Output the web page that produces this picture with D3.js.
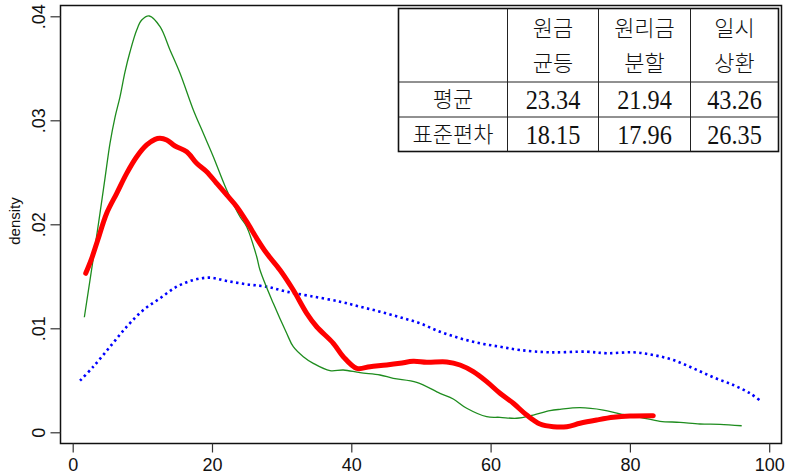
<!DOCTYPE html>
<html>
<head>
<meta charset="utf-8">
<script src="https://cdn.jsdelivr.net/npm/d3@7"></script>
<style>
  html, body { margin: 0; padding: 0; background: #fff; }
  svg { display: block; }
</style>
</head>
<body>
<svg id="chart" width="788" height="476"></svg>
<script>
// Kernel density estimates of the three repayment groups (x, density)
const equalPrincipalX = [1.67, 3.2, 3.92, 4.64, 5.36, 6.08, 6.79, 7.51, 8.23, 9.19, 9.91, 11.0, 12.54, 13.97, 15.41, 17.32, 18.75, 20.19, 22.11, 24.02, 24.98, 26.42, 26.89, 28.8, 30.72, 31.67, 33.11, 34.54, 36.94, 38.85, 41.25, 44.12, 46.03, 49.39, 52.73, 54.64, 56.57, 59.44, 61.35, 63.75, 66.13, 68.53, 69.96, 72.83, 76.18, 78.58, 81.45, 84.32, 87.19, 90.06, 92.93, 96.05];
const equalPrincipalY = [.01106, .01781, .02108, .02444, .02781, .03031, .03226, .03466, .03659, .03868, .03964, .04003, .0390, .03676, .03452, .03099, .02875, .0265, .0233, .02073, .01977, .01688, .01561, .0124, .00952, .00823, .00727, .00663, .00592, .00599, .00573, .00551, .00519, .00481, .00375, .0032, .00231, .0015, .00144, .00135, .00166, .00208, .00221, .00237, .00214, .00176, .00144, .00106, .00096, .0008, .00077, .00063];

const equalPaymentX = [1.87, 2.73, 3.6, 4.88, 6.32, 7.75, 9.19, 10.62, 11.82, 12.53, 13.5, 14.69, 16.37, 17.8, 19.24, 20.67, 22.11, 23.55, 24.98, 26.42, 27.85, 29.76, 31.67, 33.6, 35.03, 37.42, 38.85, 40.78, 42.69, 45.08, 46.99, 48.9, 50.83, 53.7, 55.61, 57.52, 59.44, 61.35, 63.26, 65.18, 67.09, 69.0, 70.93, 72.84, 75.23, 77.62, 80.01, 83.36];
const equalPaymentY = [.01529, .01673, .01849, .02106, .02298, .0249, .0265, .02763, .02817, .02827, .02811, .02753, .02698, .02587, .02506, .02394, .02282, .02169, .02025, .01865, .01721, .01561, .01368, .01144, .01015, .00856, .00727, .00615, .00631, .00647, .00663, .00683, .00673, .00676, .00647, .00583, .00487, .00375, .00279, .00166, .0008, .00054, .00054, .00087, .00118, .00144, .00157, .0016];

const bulletX = [1.05, 2.96, 5.36, 7.75, 10.14, 12.53, 14.93, 17.32, 19.71, 22.11, 24.98, 27.85, 30.72, 34.07, 38.38, 41.25, 44.12, 46.99, 49.86, 52.73, 55.61, 58.48, 61.35, 64.22, 68.53, 73.8, 76.67, 80.49, 83.36, 86.23, 89.1, 91.97, 94.84, 97.24, 98.92];
const bulletY = [.00496, .00631, .00823, .01015, .01176, .01288, .014, .01464, .01487, .01455, .01423, .014, .01352, .01311, .01256, .01208, .0116, .01106, .01048, .00967, .00904, .00856, .00823, .00791, .00769, .00775, .0076, .00769, .00743, .00695, .00615, .00529, .00455, .00375, .00294];

// Axis ticks
const xTicks = [0, 20, 40, 60, 80, 100];
const xTickLabels = ["0", "20", "40", "60", "80", "100"];
const yTicks = [0, 0.01, 0.02, 0.03, 0.04];
const yTickLabels = ["0", ".01", ".02", ".03", ".04"];
const yTitle = "density";

// Summary table
const tableHeader = [["원금", "균등"], ["원리금", "분할"], ["일시", "상환"]];
const rowLabels = ["평균", "표준편차"];
const meanValues = ["23.34", "21.94", "43.26"];
const sdValues = ["18.15", "17.96", "26.35"];

const svg = d3.select("#chart");
const frame = { left: 60.5, top: 5.5, right: 781.5, bottom: 443.5 };

const x = d3.scaleLinear().domain([0, 100]).range([72.7, 769.2]);
const y = d3.scaleLinear().domain([0, 0.04]).range([432.3, 16.3]);

// Plot frame
svg.append("rect")
  .attr("x", frame.left).attr("y", frame.top)
  .attr("width", frame.right - frame.left)
  .attr("height", frame.bottom - frame.top)
  .attr("fill", "none").attr("stroke", "#111").attr("stroke-width", 1.5);

// X axis
const xAxis = d3.axisBottom(x).tickValues(xTicks)
  .tickFormat((d, i) => xTickLabels[i]).tickSize(9).tickPadding(6);
const gx = svg.append("g").attr("transform", `translate(0,${frame.bottom})`).call(xAxis);
gx.select(".domain").remove();
gx.selectAll(".tick line").attr("stroke", "#333").attr("stroke-width", 1.2);
gx.selectAll(".tick text")
  .attr("font-family", "'Liberation Sans', Arial, sans-serif")
  .attr("font-size", 18).attr("fill", "#111");

// Y axis, labels rotated
const yAxis = d3.axisLeft(y).tickValues(yTicks)
  .tickFormat((d, i) => yTickLabels[i]).tickSize(10);
const gy = svg.append("g").attr("transform", `translate(${frame.left},0)`).call(yAxis);
gy.select(".domain").remove();
gy.selectAll(".tick line").attr("stroke", "#333").attr("stroke-width", 1.2);
gy.selectAll(".tick text")
  .attr("x", null).attr("dy", null)
  .attr("transform", "translate(-16,0) rotate(-90)")
  .attr("text-anchor", "middle")
  .attr("font-family", "'Liberation Sans', Arial, sans-serif")
  .attr("font-size", 18).attr("fill", "#111");

svg.append("text")
  .attr("transform", "translate(20,221) rotate(-90)")
  .attr("text-anchor", "middle")
  .attr("font-family", "'Liberation Sans', Arial, sans-serif")
  .attr("font-size", 15).attr("fill", "#111")
  .text(yTitle);

// Density curves
const line = d3.line()
  .x(d => x(d[0])).y(d => y(d[1]))
  .curve(d3.curveCatmullRom.alpha(0.5));

const zip = (xs, ys) => xs.map((v, i) => [v, ys[i]]);

svg.append("path")
  .datum(zip(bulletX, bulletY))
  .attr("d", line).attr("fill", "none")
  .attr("stroke", "#0000ff").attr("stroke-width", 2.6)
  .attr("stroke-dasharray", "2.4,3.4");

svg.append("path")
  .datum(zip(equalPrincipalX, equalPrincipalY))
  .attr("d", line).attr("fill", "none")
  .attr("stroke", "#1e8c1e").attr("stroke-width", 1.3);

svg.append("path")
  .datum(zip(equalPaymentX, equalPaymentY))
  .attr("d", line).attr("fill", "none")
  .attr("stroke", "#ff0000").attr("stroke-width", 5)
  .attr("stroke-linecap", "round").attr("stroke-linejoin", "round");

// Summary table
const colEdges = [398.5, 507.5, 598.5, 690.5, 778.5];
const rowEdges = [8.5, 82, 117, 151.5];
const tbl = svg.append("g");
tbl.append("rect")
  .attr("x", colEdges[0]).attr("y", rowEdges[0])
  .attr("width", colEdges[4] - colEdges[0])
  .attr("height", rowEdges[3] - rowEdges[0])
  .attr("fill", "#fff").attr("stroke", "#111").attr("stroke-width", 1.6);
colEdges.slice(1, 4).forEach(cx => {
  tbl.append("line").attr("x1", cx).attr("x2", cx)
    .attr("y1", rowEdges[0]).attr("y2", rowEdges[3])
    .attr("stroke", "#222").attr("stroke-width", 1);
});
rowEdges.slice(1, 3).forEach(ry => {
  tbl.append("line").attr("x1", colEdges[0]).attr("x2", colEdges[4])
    .attr("y1", ry).attr("y2", ry)
    .attr("stroke", "#222").attr("stroke-width", 1);
});

const colCenter = i => (colEdges[i] + colEdges[i + 1]) / 2;
const rowCenter = i => (rowEdges[i] + rowEdges[i + 1]) / 2;
const krFont = "'Noto Sans CJK KR', sans-serif";
const numFont = "'Liberation Serif', 'Times New Roman', serif";

tableHeader.forEach((lines, j) => {
  lines.forEach((t, k) => {
    tbl.append("text")
      .attr("x", colCenter(j + 1))
      .attr("y", rowCenter(0) + (k === 0 ? -17 : 18))
      .attr("dy", "0.35em").attr("text-anchor", "middle")
      .attr("font-family", krFont).attr("font-weight", 300)
      .attr("font-size", 22).attr("fill", "#111")
      .text(t);
  });
});

rowLabels.forEach((t, i) => {
  tbl.append("text")
    .attr("x", colCenter(0)).attr("y", rowCenter(i + 1))
    .attr("dy", "0.35em").attr("text-anchor", "middle")
    .attr("font-family", krFont).attr("font-weight", 300)
    .attr("font-size", 22).attr("fill", "#111")
    .text(t);
});

[meanValues, sdValues].forEach((vals, i) => {
  vals.forEach((v, j) => {
    tbl.append("text")
      .attr("transform", `translate(${colCenter(j + 1)},${rowCenter(i + 1)}) scale(0.9,1)`)
      .attr("dy", "0.35em").attr("text-anchor", "middle")
      .attr("font-family", numFont).attr("font-size", 27).attr("fill", "#111")
      .text(v);
  });
});
</script>
</body>
</html>
